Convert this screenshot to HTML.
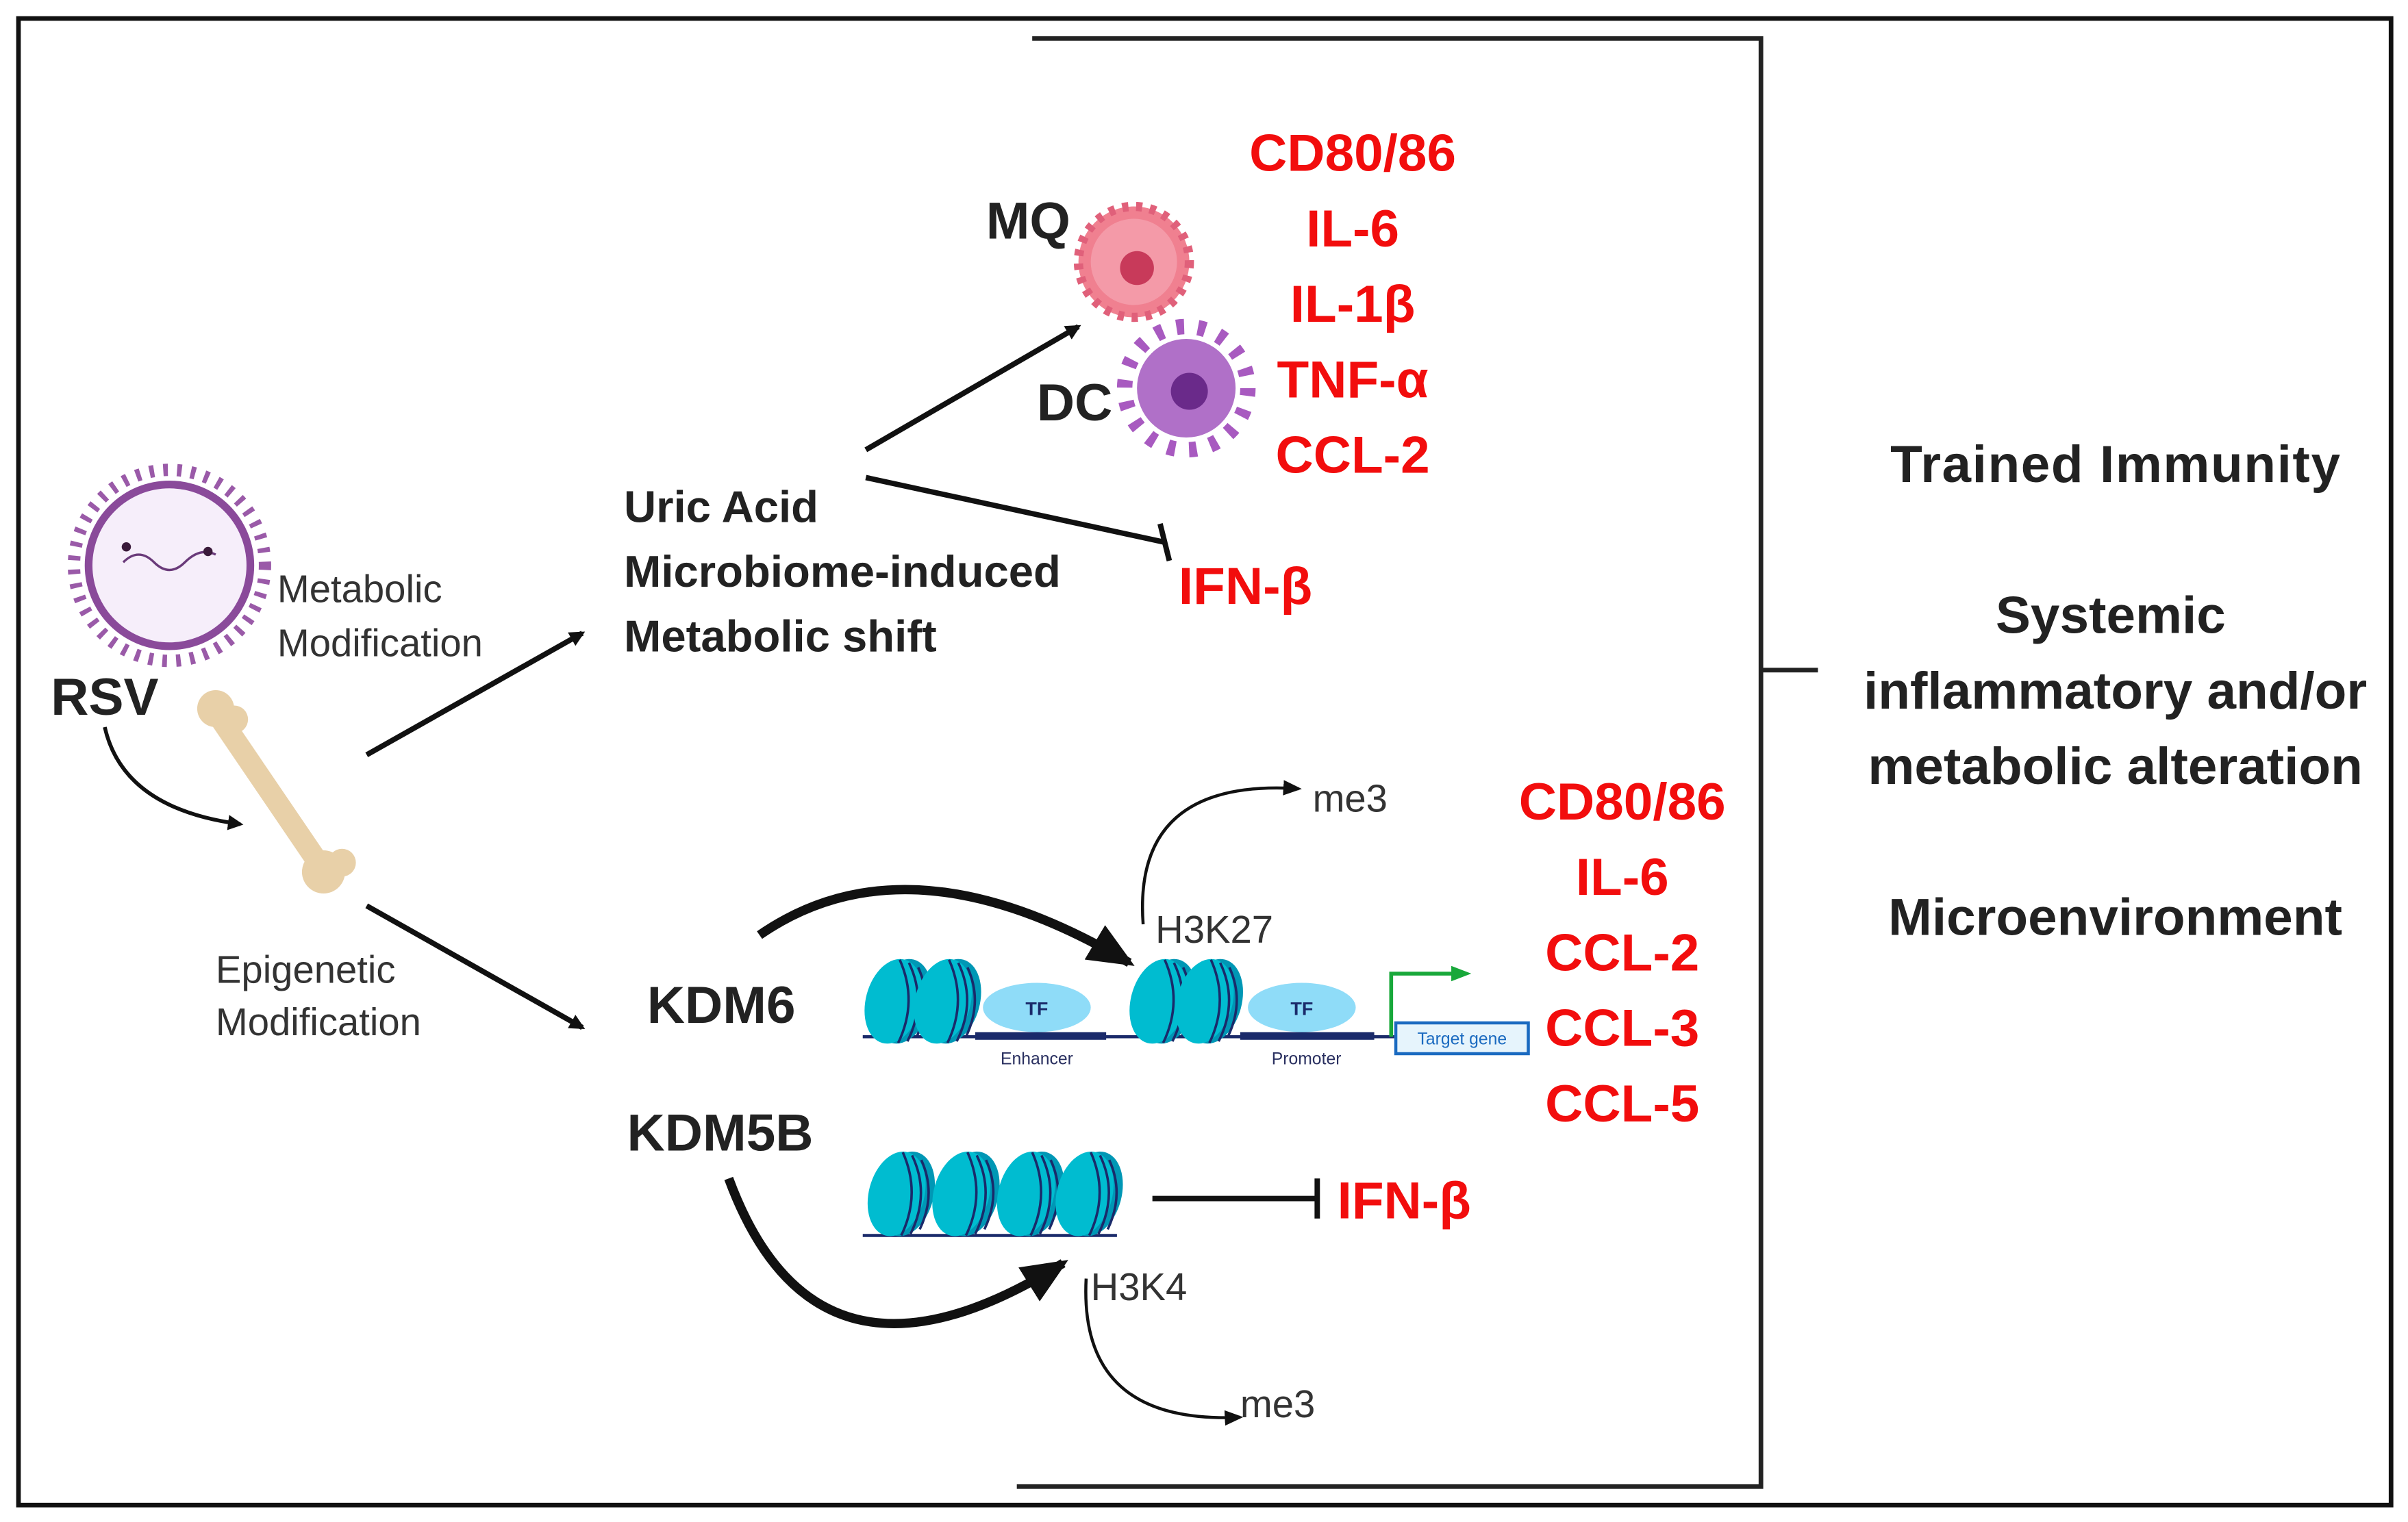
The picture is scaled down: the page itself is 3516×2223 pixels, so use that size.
<!DOCTYPE html>
<html><head><meta charset="utf-8"><style>
html,body{margin:0;padding:0;background:#fff}
svg{display:block}
text{font-family:"Liberation Sans",sans-serif}
.b{font-weight:bold;fill:#222}
.r{font-weight:bold;fill:#f20d0d}
</style></head><body>
<svg width="3516" height="2223" viewBox="0 0 1563 988" preserveAspectRatio="none" xmlns="http://www.w3.org/2000/svg">
<defs>
<marker id="ah" markerWidth="10" markerHeight="10" refX="8" refY="5" orient="auto" markerUnits="userSpaceOnUse" viewBox="0 0 10 10"><path d="M0,0 L10,5 L0,10z" fill="#111"/></marker>
<marker id="ahb" markerWidth="30" markerHeight="30" refX="26" refY="15" orient="auto" markerUnits="userSpaceOnUse" viewBox="0 0 30 30"><path d="M0,2 L30,15 L0,28z" fill="#111"/></marker>
<marker id="ahs" markerWidth="12" markerHeight="12" refX="10" refY="6" orient="auto" markerUnits="userSpaceOnUse" viewBox="0 0 12 12"><path d="M0,1 L12,6 L0,11z" fill="#111"/></marker>
<g id="nuc">
<ellipse cx="6" cy="0" rx="18" ry="28" transform="rotate(15 6 0)" fill="#0097b5"/>
<ellipse cx="0" cy="0" rx="18" ry="28" transform="rotate(15)" fill="#00bcd0"/>
<path d="M4,-27 Q16,0 3,27 M10,-25 Q22,0 9,26 M16,-22 Q26,0 15,23" stroke="#1a2a6a" stroke-width="1.6" fill="none"/>
</g>
</defs>
<rect x="12" y="12" width="1540" height="965" fill="none" stroke="#111" stroke-width="3"/>
<path d="M670,25 H1143 V965 H660 M1143,435 H1180" fill="none" stroke="#222" stroke-width="3"/>

<g text-anchor="middle" font-size="34">
<text class="b" x="1373" y="313" textLength="292">Trained Immunity</text>
<text class="b" x="1370" y="411">Systemic</text>
<text class="b" x="1373" y="460">inflammatory and/or</text>
<text class="b" x="1373" y="509">metabolic alteration</text>
<text class="b" x="1373" y="607">Microenvironment</text>
<text class="r" x="878" y="111">CD80/86</text>
<text class="r" x="878" y="160">IL-6</text>
<text class="r" x="878" y="209">IL-1β</text>
<text class="r" x="878" y="258">TNF-α</text>
<text class="r" x="878" y="307">CCL-2</text>
<text class="r" x="1053" y="532">CD80/86</text>
<text class="r" x="1053" y="581">IL-6</text>
<text class="r" x="1053" y="630">CCL-2</text>
<text class="r" x="1053" y="679">CCL-3</text>
<text class="r" x="1053" y="728">CCL-5</text>
</g>
<text class="r" x="765" y="392" font-size="34">IFN-β</text>
<text class="r" x="868" y="791" font-size="34">IFN-β</text>
<text class="b" x="640" y="155" font-size="34">MQ</text>
<text class="b" x="673" y="273" font-size="34">DC</text>
<text class="b" x="405" y="339" font-size="29">Uric Acid</text>
<text class="b" x="405" y="381" font-size="29">Microbiome-induced</text>
<text class="b" x="405" y="423" font-size="29">Metabolic shift</text>
<text class="b" x="33" y="464" font-size="34">RSV</text>
<text class="b" x="420" y="664" font-size="34">KDM6</text>
<text class="b" x="407" y="747" font-size="34">KDM5B</text>
<g font-size="25" fill="#333">
<text x="180" y="391">Metabolic</text><text x="180" y="426">Modification</text>
<text x="140" y="638">Epigenetic</text><text x="140" y="672">Modification</text>
<text x="852" y="527">me3</text><text x="750" y="612">H3K27</text>
<text x="708" y="844">H3K4</text><text x="805" y="920">me3</text>
</g>

<g stroke="#111" stroke-width="3.5" fill="none">
<line x1="238" y1="490" x2="378" y2="411" marker-end="url(#ah)"/>
<line x1="238" y1="588" x2="378" y2="667" marker-end="url(#ah)"/>
<line x1="562" y1="292" x2="700" y2="212" marker-end="url(#ah)"/>
<line x1="562" y1="310" x2="756" y2="352"/>
<line x1="753" y1="340" x2="759" y2="364"/>
<path d="M68,472 Q80,525 156,535" stroke-width="2.5" marker-end="url(#ah)"/>
<path d="M493,607 Q590,540 733,625" stroke-width="6" marker-end="url(#ahb)"/>
<path d="M473,765 Q530,920 690,820" stroke-width="6" marker-end="url(#ahb)"/>
<path d="M742,600 Q735,505 843,512" stroke-width="2" marker-end="url(#ahs)"/>
<path d="M705,830 Q700,925 805,920" stroke-width="2" marker-end="url(#ahs)"/>
<line x1="748" y1="778" x2="855" y2="778"/>
<line x1="855" y1="765" x2="855" y2="791"/>
</g>

<path d="M560,673 H905" stroke="#1a2a6a" stroke-width="2"/>
<rect x="633" y="670" width="85" height="5" fill="#1a2a6a"/>
<rect x="805" y="670" width="87" height="5" fill="#1a2a6a"/>
<ellipse cx="673" cy="654" rx="35" ry="16" fill="#8fdcf8"/>
<ellipse cx="845" cy="654" rx="35" ry="16" fill="#8fdcf8"/>
<text x="673" y="659" font-size="12" font-weight="bold" fill="#1a2a6a" text-anchor="middle">TF</text>
<text x="845" y="659" font-size="12" font-weight="bold" fill="#1a2a6a" text-anchor="middle">TF</text>
<text x="673" y="691" font-size="11" fill="#2a3060" text-anchor="middle">Enhancer</text>
<text x="848" y="691" font-size="11" fill="#2a3060" text-anchor="middle">Promoter</text>
<use href="#nuc" x="580" y="650"/><use href="#nuc" x="612" y="650"/>
<use href="#nuc" x="752" y="650"/><use href="#nuc" x="782" y="650"/>
<path d="M903,673 V632 H945" stroke="#18a83a" stroke-width="2.5" fill="none"/>
<path d="M942,627 L955,632 L942,637z" fill="#18a83a"/>
<rect x="906" y="664" width="86" height="20" fill="#e6f4fc" stroke="#1a6ac0" stroke-width="2"/>
<text x="949" y="678" font-size="11" fill="#1a6ac0" text-anchor="middle">Target gene</text>
<path d="M560,802 H725" stroke="#1a2a6a" stroke-width="2"/>
<use href="#nuc" x="582" y="775"/><use href="#nuc" x="624" y="775"/><use href="#nuc" x="666" y="775"/><use href="#nuc" x="704" y="775"/>

<g>
<circle cx="110" cy="367" r="62" fill="none" stroke="#9a5aa8" stroke-width="8" stroke-dasharray="3 6"/>
<circle cx="110" cy="367" r="55" fill="#8a4a9a"/>
<circle cx="110" cy="367" r="50" fill="#f6eefa"/>
<path d="M80,365 q10,-10 20,0 t20,0 t20,-5" stroke="#6a3a7a" stroke-width="1.5" fill="none"/>
<circle cx="82" cy="355" r="3" fill="#3a1a3a"/><circle cx="135" cy="358" r="3" fill="#3a1a3a"/>
</g>
<g>
<line x1="140" y1="462" x2="210" y2="565" stroke="#e8d0a8" stroke-width="14" stroke-linecap="round"/>
<circle cx="140" cy="460" r="12" fill="#e8d0a8"/><circle cx="152" cy="467" r="9" fill="#e8d0a8"/>
<circle cx="210" cy="566" r="14" fill="#e8d0a8"/><circle cx="222" cy="560" r="9" fill="#e8d0a8"/>
</g>
<g>
<circle cx="736" cy="170" r="36" fill="#f08090" stroke="#e0607a" stroke-width="6" stroke-dasharray="4 5"/>
<circle cx="736" cy="170" r="28" fill="#f49aa8"/>
<circle cx="738" cy="174" r="11" fill="#c83a5a"/>
</g>
<g>
<circle cx="770" cy="252" r="40" fill="none" stroke="#a85ac0" stroke-width="10" stroke-dasharray="5 9"/>
<circle cx="770" cy="252" r="32" fill="#b070c8"/>
<circle cx="772" cy="254" r="12" fill="#6a2a8a"/>
</g>
</svg>
</body></html>
